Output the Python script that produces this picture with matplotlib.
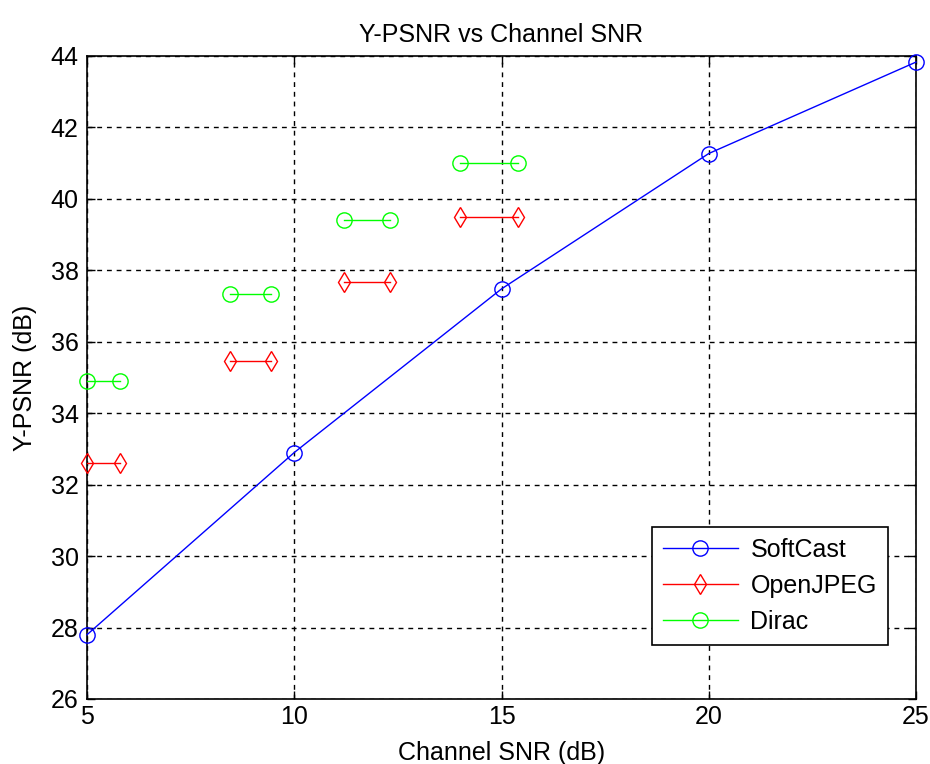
import matplotlib
matplotlib.use("Agg")
import matplotlib.pyplot as plt

plt.rcParams['font.family'] = ['Liberation Sans', 'DejaVu Sans']

# SoftCast
softcast_snr = [5, 10, 15, 20, 25]
softcast_psnr = [27.8, 32.9, 37.48, 41.27, 43.83]

# OpenJPEG / Dirac: each entry is one horizontal segment (SNR start, SNR end)
seg_snr_start = [5.0, 8.45, 11.2, 14.0]
seg_snr_end = [5.8, 9.45, 12.3, 15.4]
openjpeg_psnr = [32.6, 35.45, 37.68, 39.5]
dirac_psnr = [34.9, 37.35, 39.4, 41.0]

xticks = [5, 10, 15, 20, 25]
yticks = [26, 28, 30, 32, 34, 36, 38, 40, 42, 44]

fig = plt.figure(figsize=(9.3, 7.64), dpi=100)
ax = fig.add_axes([87/930, 1-699/764, (916-87)/930, (699-56)/764])

lw = 1.0
circ = dict(marker='o', markersize=11, markerfacecolor='none', markeredgewidth=1.0)
diam = dict(marker='d', markersize=10, markerfacecolor='none', markeredgewidth=1.0)

h_sc, = ax.plot(softcast_snr, softcast_psnr, color=(0, 0, 1), lw=lw,
                label='SoftCast', clip_on=False, zorder=5, **circ)
h_oj = h_di = None
for xs, xe, yo, yd in zip(seg_snr_start, seg_snr_end, openjpeg_psnr, dirac_psnr):
    h_oj, = ax.plot([xs, xe], [yo, yo], color=(1, 0, 0), lw=lw,
                    label='OpenJPEG', clip_on=False, zorder=5, **diam)
    h_di, = ax.plot([xs, xe], [yd, yd], color=(0, 1, 0), lw=lw,
                    label='Dirac', clip_on=False, zorder=5, **circ)

ax.set_xlim(5, 25)
ax.set_ylim(26, 44)
ax.set_xticks(xticks)
ax.set_yticks(yticks)
ax.tick_params(direction='in', length=6, width=1, top=True, right=True,
               labelsize=18, colors='black', pad=6)
ax.tick_params(axis='x', pad=4)
for s in ax.spines.values():
    s.set_linewidth(1.2)
    s.set_color('black')
ax.grid(True, color='black', linestyle=(0, (3.5, 3.5)), linewidth=1.0)
ax.set_axisbelow(True)

ax.set_title('Y-PSNR vs Channel SNR', fontsize=18, pad=10)
ax.set_xlabel('Channel SNR (dB)', fontsize=18, labelpad=9)
ax.set_ylabel('Y-PSNR (dB)', fontsize=18, labelpad=10)

leg = ax.legend([h_sc, h_oj, h_di], ['SoftCast', 'OpenJPEG', 'Dirac'],
                loc='lower right', bbox_to_anchor=(888/930, 1-645/764),
                bbox_transform=fig.transFigure, fontsize=18, fancybox=False,
                edgecolor='black', framealpha=1, handlelength=3.0,
                borderpad=0.45, labelspacing=0.48, handletextpad=0.5,
                borderaxespad=0)
leg.get_frame().set_linewidth(1.2)

fig.savefig('out.png', dpi=100)
